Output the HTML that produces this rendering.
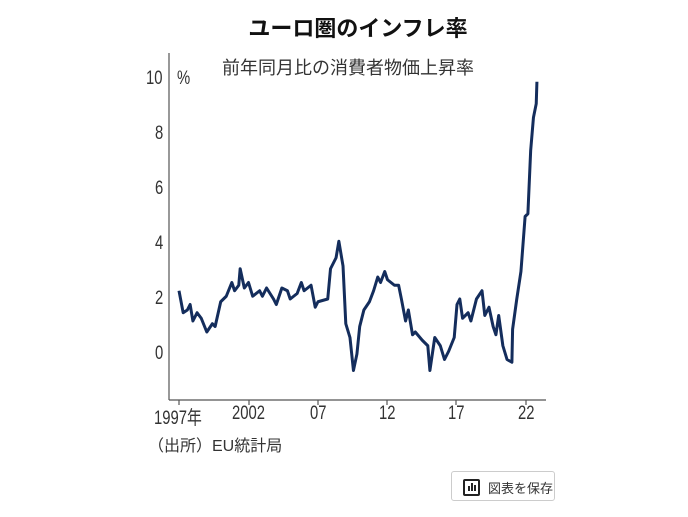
<!DOCTYPE html>
<html><head><meta charset="utf-8"><style>
body{margin:0;width:688px;height:517px;background:#fff;overflow:hidden;position:relative;font-family:"Liberation Sans","Noto Sans CJK JP",sans-serif;color:#222}
.t{position:absolute;white-space:nowrap}
.ax{font-size:19px;color:#333;transform:scaleX(0.78);transform-origin:0 0}
</style></head><body>
<div class="t" style="left:0;width:716px;text-align:center;top:11px;font-size:22px;font-weight:bold;color:#111">ユーロ圏のインフレ率</div>
<div class="t" style="left:222px;top:54px;font-size:18px;color:#333">前年同月比の消費者物価上昇率</div>
<svg width="688" height="517" style="position:absolute;left:0;top:0">
<g stroke="#555" stroke-width="1.2" fill="none">
<line x1="169" y1="53" x2="169" y2="400"/>
<line x1="169" y1="400" x2="546" y2="400"/>
<line x1="179" y1="400" x2="179" y2="405"/><line x1="249" y1="400" x2="249" y2="405"/><line x1="318" y1="400" x2="318" y2="405"/><line x1="387" y1="400" x2="387" y2="405"/><line x1="456" y1="400" x2="456" y2="405"/><line x1="526" y1="400" x2="526" y2="405"/>
</g>
<polyline transform="matrix(13.9,0,0,-27.5,-27579.3,354)" vector-effect="non-scaling-stroke" fill="none" stroke="#142d5c" stroke-width="3" stroke-linejoin="round" points="
1997,2.3 1997.3,1.5 1997.6,1.6 1997.8,1.8 1998,1.2 1998.3,1.5 1998.6,1.3 1999,0.8 1999.4,1.1 1999.6,1.0 2000,1.9 2000.4,2.1 2000.8,2.6 2001,2.3 2001.3,2.5 2001.4,3.1 2001.7,2.4 2002,2.6 2002.3,2.1 2002.8,2.3 2003,2.1 2003.3,2.4 2003.8,2.0 2004,1.8 2004.4,2.4 2004.8,2.3 2005,2.0 2005.5,2.2 2005.8,2.6 2006,2.3 2006.5,2.5 2006.8,1.7 2007,1.9 2007.7,2.0 2007.9,3.1 2008.3,3.5 2008.5,4.1 2008.8,3.2 2009,1.1 2009.3,0.6 2009.55,-0.6 2009.8,0.0 2010,1.0 2010.3,1.6 2010.7,1.9 2011,2.3 2011.3,2.8 2011.5,2.6 2011.8,3.0 2012,2.7 2012.5,2.5 2012.8,2.5 2013,2.0 2013.3,1.2 2013.5,1.6 2013.8,0.7 2014,0.8 2014.5,0.5 2014.9,0.3 2015.05,-0.6 2015.4,0.6 2015.8,0.3 2016.1,-0.2 2016.4,0.1 2016.8,0.6 2017,1.8 2017.2,2.0 2017.4,1.3 2017.8,1.5 2018,1.2 2018.4,2.0 2018.8,2.3 2019,1.4 2019.3,1.7 2019.6,1.0 2019.8,0.7 2020,1.4 2020.3,0.3 2020.6,-0.2 2020.95,-0.3 2021,0.9 2021.3,2.0 2021.6,3.0 2021.9,5.0 2022.1,5.1 2022.3,7.4 2022.5,8.6 2022.7,9.1 2022.75,9.9"/>
</svg>
<div class="t ax" style="left:146px;top:68px">10</div>
<div class="t ax" style="left:177px;top:68px">%</div>
<div class="t ax" style="left:155px;top:123px">8</div>
<div class="t ax" style="left:155px;top:178px">6</div>
<div class="t ax" style="left:155px;top:233px">4</div>
<div class="t ax" style="left:155px;top:288px">2</div>
<div class="t ax" style="left:155px;top:343px">0</div>
<div class="t ax" style="left:154px;top:403px">1997年</div>
<div class="t ax" style="left:232px;top:403px">2002</div>
<div class="t ax" style="left:310px;top:403px">07</div>
<div class="t ax" style="left:379px;top:403px">12</div>
<div class="t ax" style="left:448px;top:403px">17</div>
<div class="t ax" style="left:518px;top:403px">22</div>
<div class="t" style="left:148px;top:432px;font-size:16px;color:#333">（出所）EU統計局</div>
<div class="t" style="left:451px;top:471px;width:104px;height:30px;border:1px solid #ccc;border-radius:3px;box-sizing:border-box">
<div style="position:absolute;left:11px;top:7px;width:13px;height:13px;border:2px solid #222;border-radius:2px"></div>
<div style="position:absolute;left:16px;top:14px;width:2px;height:5px;background:#222"></div>
<div style="position:absolute;left:19px;top:11px;width:2px;height:8px;background:#222"></div>
<div style="position:absolute;left:22px;top:13px;width:2px;height:6px;background:#222"></div>
<div style="position:absolute;left:36px;top:6px;font-size:13px;color:#333">図表を保存</div>
</div>
</body></html>
